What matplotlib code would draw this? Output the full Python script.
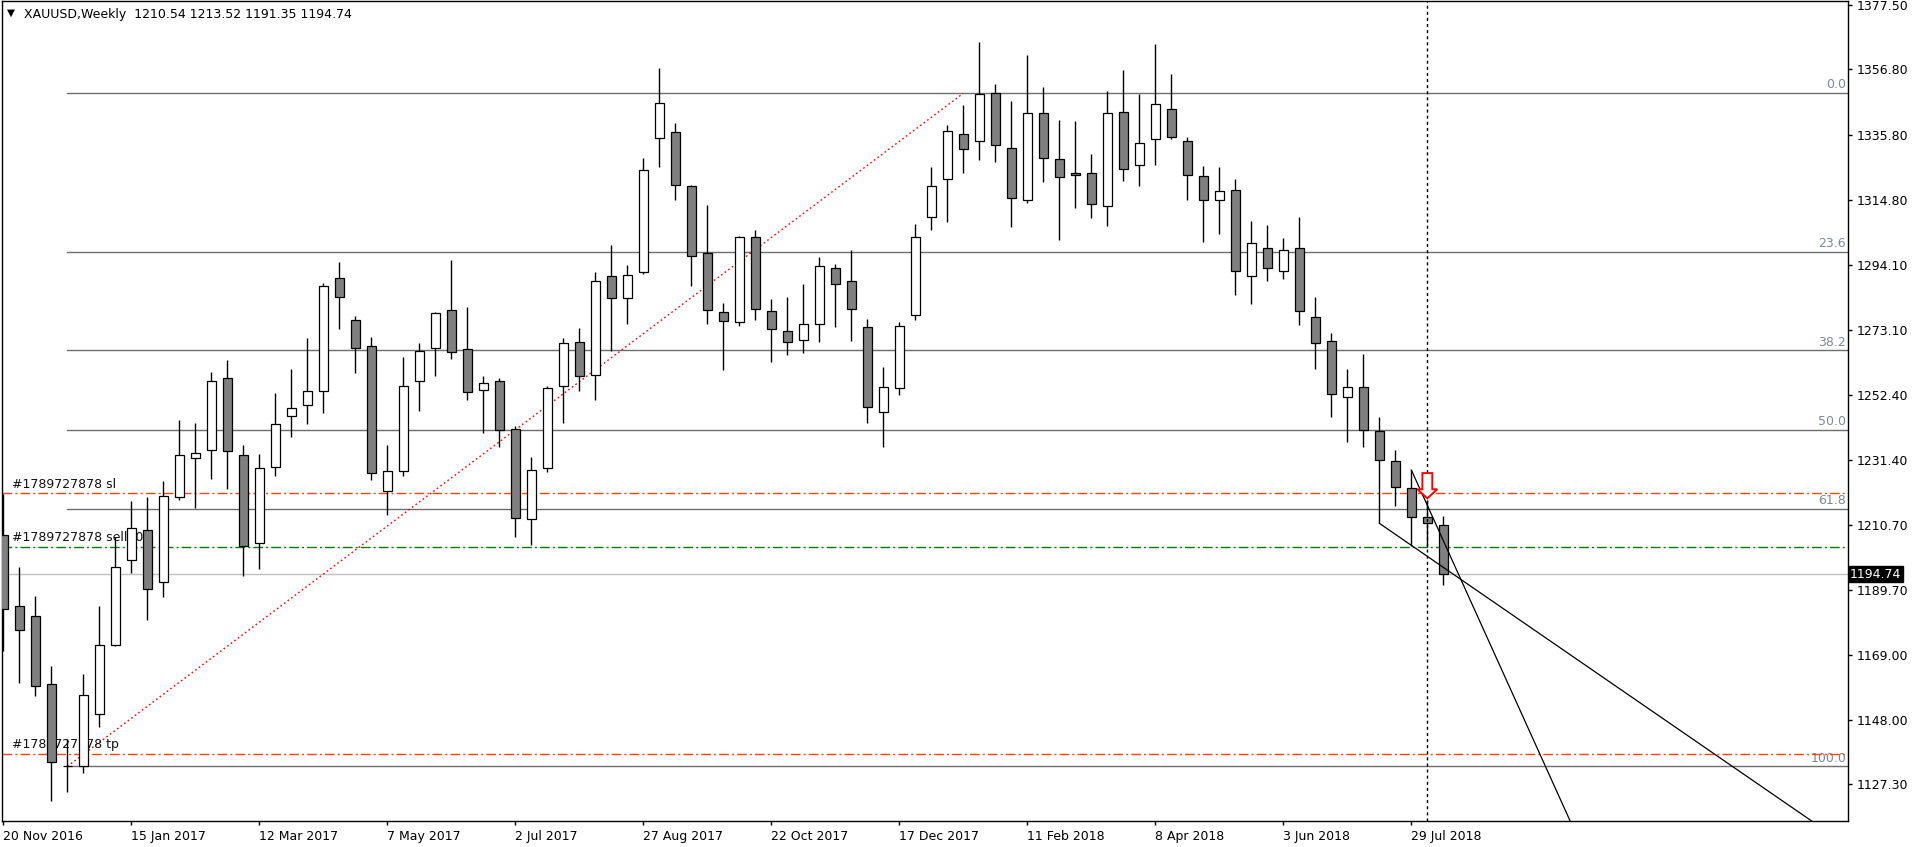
import numpy as np
import matplotlib
matplotlib.use('Agg')
import matplotlib.pyplot as plt
import matplotlib.transforms as mtransforms
from matplotlib.patches import Polygon

# ----------------------------
# Weekly XAUUSD candles
# ----------------------------
opens = [1207.2, 1184.5, 1181.2, 1159.4, 1133.3, 1133.3, 1149.8, 1171.9, 1199.2, 1208.8,
         1192.2, 1219.4, 1232.2, 1234.5, 1257.6, 1232.9, 1204.9, 1229.0, 1245.5, 1248.9,
         1253.4, 1289.7, 1276.3, 1267.9, 1221.6, 1227.8, 1256.7, 1267.3, 1279.4, 1267.0,
         1253.8, 1256.7, 1241.3, 1212.4, 1228.7, 1255.0, 1269.2, 1258.6, 1290.3, 1283.3,
         1291.6, 1334.6, 1336.5, 1319.2, 1297.7, 1278.9, 1275.6, 1302.8, 1279.1, 1272.7,
         1269.8, 1274.9, 1292.9, 1288.7, 1274.0, 1246.7, 1254.4, 1277.8, 1309.3, 1321.5,
         1335.9, 1333.6, 1349.2, 1331.5, 1314.8, 1342.6, 1327.9, 1323.4, 1323.4, 1312.9,
         1343.1, 1325.9, 1334.3, 1344.0, 1333.6, 1322.4, 1314.8, 1317.9, 1290.3, 1299.3,
         1291.9, 1299.3, 1277.2, 1269.5, 1251.5, 1254.7, 1240.6, 1231.0, 1222.3, 1213.2,
         1210.54]
highs = [1220.6, 1197.1, 1187.8, 1165.3, 1141.9, 1162.7, 1184.6, 1206.6, 1218.2, 1219.5,
         1224.6, 1244.2, 1243.2, 1259.7, 1263.5, 1236.2, 1233.4, 1252.8, 1260.6, 1270.6,
         1288.1, 1294.9, 1277.6, 1270.9, 1236.2, 1264.5, 1268.8, 1279.0, 1295.6, 1280.4,
         1258.4, 1257.7, 1242.3, 1232.4, 1255.1, 1270.4, 1273.7, 1291.7, 1300.4, 1294.0,
         1328.2, 1357.2, 1339.6, 1319.5, 1313.2, 1281.8, 1303.3, 1305.3, 1283.1, 1283.7,
         1287.9, 1296.5, 1294.3, 1298.8, 1276.6, 1261.2, 1275.7, 1307.1, 1325.5, 1339.0,
         1345.4, 1365.5, 1352.0, 1346.6, 1361.3, 1351.1, 1340.6, 1340.3, 1329.6, 1349.8,
         1356.6, 1348.9, 1364.9, 1355.2, 1335.0, 1325.8, 1325.5, 1321.7, 1308.2, 1306.9,
         1302.5, 1309.4, 1283.7, 1272.1, 1260.5, 1265.4, 1245.2, 1234.6, 1228.2, 1218.6,
         1213.52]
lows = [1170.2, 1159.9, 1155.7, 1122.1, 1124.9, 1131.1, 1145.7, 1171.6, 1195.2, 1180.0,
        1187.6, 1218.7, 1216.1, 1225.4, 1222.2, 1194.3, 1196.5, 1226.2, 1238.8, 1243.1,
        1246.6, 1273.5, 1259.4, 1225.1, 1213.6, 1226.4, 1247.1, 1258.4, 1263.9, 1250.7,
        1240.2, 1235.7, 1206.8, 1204.1, 1227.7, 1243.2, 1253.6, 1250.7, 1266.5, 1275.0,
        1291.2, 1325.5, 1314.9, 1287.3, 1275.1, 1260.2, 1274.5, 1276.2, 1263.0, 1265.0,
        1265.6, 1269.4, 1274.0, 1269.7, 1243.4, 1235.7, 1252.1, 1276.4, 1305.3, 1307.6,
        1323.6, 1327.8, 1326.9, 1306.3, 1313.7, 1320.5, 1302.1, 1312.1, 1308.9, 1306.6,
        1320.8, 1319.2, 1326.2, 1334.3, 1314.7, 1301.2, 1303.9, 1284.4, 1281.4, 1288.7,
        1289.4, 1274.8, 1260.7, 1245.3, 1237.3, 1235.7, 1211.1, 1216.7, 1203.9, 1203.6,
        1191.35]
closes = [1183.6, 1176.9, 1159.0, 1134.4, 1133.3, 1155.9, 1172.2, 1197.0, 1209.7, 1190.1,
          1219.7, 1232.9, 1233.8, 1256.7, 1234.2, 1203.7, 1228.7, 1243.1, 1248.2, 1253.4,
          1287.2, 1283.6, 1267.3, 1227.1, 1227.8, 1255.3, 1266.3, 1278.5, 1266.0, 1253.1,
          1256.0, 1240.9, 1212.7, 1228.1, 1254.4, 1268.8, 1258.3, 1288.7, 1283.3, 1290.6,
          1324.3, 1345.8, 1319.5, 1296.8, 1279.4, 1275.9, 1303.1, 1279.8, 1273.3, 1269.2,
          1274.9, 1293.6, 1287.8, 1279.8, 1248.3, 1254.7, 1274.3, 1303.1, 1319.2, 1336.9,
          1331.1, 1348.9, 1332.4, 1315.4, 1342.6, 1328.2, 1322.1, 1322.7, 1313.5, 1342.6,
          1324.7, 1333.0, 1345.6, 1334.9, 1322.7, 1314.8, 1317.6, 1291.9, 1300.9, 1292.9,
          1298.7, 1279.1, 1268.8, 1252.5, 1254.7, 1240.9, 1231.3, 1222.7, 1213.0, 1211.1,
          1194.74]

date_labels = ['20 Nov 2016', '15 Jan 2017', '12 Mar 2017', '7 May 2017', '2 Jul 2017',
               '27 Aug 2017', '22 Oct 2017', '17 Dec 2017', '11 Feb 2018', '8 Apr 2018',
               '3 Jun 2018', '29 Jul 2018']
date_pos = [0, 8, 16, 24, 32, 40, 48, 56, 64, 72, 80, 88]

price_ticks = [1377.50, 1356.80, 1335.80, 1314.80, 1294.10, 1273.10, 1252.40,
               1231.40, 1210.70, 1189.70, 1169.00, 1148.00, 1127.30]

# Fibonacci retracement (anchor bars / prices)
fib_x = [4, 60]
fib_price = [1133.1, 1349.05]
fib_levels = [0.0, 23.6, 38.2, 50.0, 61.8, 100.0]

# order lines
sl_price = 1220.7
sell_price = 1203.4
tp_price = 1137.2
bid_price = 1194.74
ticket = '#1789727878'

# trendlines (two anchor points each, drawn as rays)
trend_a_x = [86, 97.5]
trend_a_y = [1211.1, 1170.45]
trend_b_x = [88, 93.09]
trend_b_y = [1228.2, 1170.45]

vline_bar = 89
arrow_bar = 89
arrow_top = 1227.2
arrow_tip = 1219.1

# ----------------------------
# Figure
# ----------------------------
W, H = 1916, 847
fig = plt.figure(figsize=(W / 100, H / 100), dpi=100)
ax = fig.add_axes([2 / W, 1 - 820.5 / H, (1848 - 2) / W, (820.5 - 1) / H])

XMIN, XMAX = -0.081, 115.29
ax.set_xlim(XMIN, XMAX)
ax.set_ylim(1115.75, 1378.66)

FS = 9
COL_FIB = '#6e6e6e'
COL_FIBTXT = '#7d8898'
COL_OR = '#ff4500'
COL_GR = '#008000'

x = np.arange(len(opens))
o = np.array(opens); c = np.array(closes)
hi = np.array(highs); lo = np.array(lows)

# wicks + bodies
ax.vlines(x, lo, hi, color='black', lw=1.0, zorder=4)
bull = c >= o
fills = np.where(bull, 'white', '#808080')
ax.bar(x, np.abs(c - o), bottom=np.minimum(o, c), width=0.5625,
       color=fills, edgecolor='black', linewidth=0.9, zorder=5)

# Fibonacci levels
f0, f100 = fib_price[1], fib_price[0]
for lev in fib_levels:
    p = f0 - (f0 - f100) * lev / 100.0
    ax.plot([fib_x[0], XMAX], [p, p], color=COL_FIB, lw=1.0, zorder=2)
    ax.text(115.17, p + 0.6, f'{lev:.1f}', color=COL_FIBTXT, fontsize=FS,
            ha='right', va='bottom', zorder=2)
ax.plot(fib_x, fib_price, color='red', lw=1.0, ls=(0, (1.2, 2.0)), zorder=3)

# order lines
dashdot = (0, (7, 2.2, 1.5, 2.2))
ax.axhline(bid_price, color='#c0c0c0', lw=1.0, zorder=1)
ax.axhline(sl_price, color=COL_OR, lw=1.0, ls=dashdot, zorder=2)
ax.axhline(sell_price, color=COL_GR, lw=1.0, ls=dashdot, zorder=2)
ax.axhline(tp_price, color=COL_OR, lw=1.0, ls=dashdot, zorder=2)
ax.text(0.55, sl_price + 0.9, f'{ticket} sl', fontsize=FS, color='#111111',
        ha='left', va='bottom', zorder=3)
ax.text(0.55, sell_price + 0.9, f'{ticket} sell  0', fontsize=FS, color='#111111',
        ha='left', va='bottom', zorder=3)
ax.text(0.55, tp_price + 0.9, f'{ticket} tp', fontsize=FS, color='#111111',
        ha='left', va='bottom', zorder=3)

# trendlines (rays to the right edge)
for tx, ty in [(trend_a_x, trend_a_y), (trend_b_x, trend_b_y)]:
    slope = (ty[1] - ty[0]) / (tx[1] - tx[0])
    ax.plot([tx[0], XMAX], [ty[0], ty[0] + slope * (XMAX - tx[0])],
            color='black', lw=0.9, zorder=6)

# vertical dotted line
ax.axvline(vline_bar, color='black', lw=1.0, ls=(0, (2.2, 2.2)), zorder=6)

# sell arrow
sw, hw = 0.31, 0.62
shaft_bot = arrow_tip + (arrow_top - arrow_tip) * 0.36
arrow = Polygon([(arrow_bar - sw, arrow_top), (arrow_bar + sw, arrow_top),
                 (arrow_bar + sw, shaft_bot), (arrow_bar + hw, shaft_bot),
                 (arrow_bar, arrow_tip), (arrow_bar - hw, shaft_bot),
                 (arrow_bar - sw, shaft_bot)], closed=True,
                facecolor='white', edgecolor='red', lw=1.4, zorder=7)
ax.add_patch(arrow)

# axes styling
for s in ax.spines.values():
    s.set_color('black')
    s.set_linewidth(1.0)
ax.yaxis.tick_right()
ax.set_yticks(price_ticks)
ax.set_yticklabels([f'{t:.2f}' for t in price_ticks])
ax.set_xticks(date_pos)
ax.set_xticklabels(date_labels)
for lab in ax.get_xticklabels():
    lab.set_ha('left')
ax.tick_params(axis='y', direction='out', length=3, width=1, pad=3,
               labelsize=FS, colors='black')
ax.tick_params(axis='x', direction='out', length=3, width=1, pad=4,
               labelsize=FS, colors='black')

# current price box
trans = mtransforms.blended_transform_factory(ax.transAxes, ax.transData)
ax.text(1.0011, bid_price, f'{bid_price:.2f}', transform=trans, fontsize=FS,
        color='white', ha='left', va='center', zorder=10, clip_on=False,
        bbox=dict(boxstyle='square,pad=0.12', facecolor='black', edgecolor='black'))

# header
fig.text(7 / W, 1 - 13 / H, '▼', fontsize=7.5, color='black', ha='left', va='center')
fig.text(24 / W, 1 - 14.5 / H, 'XAUUSD,Weekly  1210.54 1213.52 1191.35 1194.74',
         fontsize=FS, color='black', ha='left', va='center')

fig.savefig('out.png', dpi=100, facecolor='white')
